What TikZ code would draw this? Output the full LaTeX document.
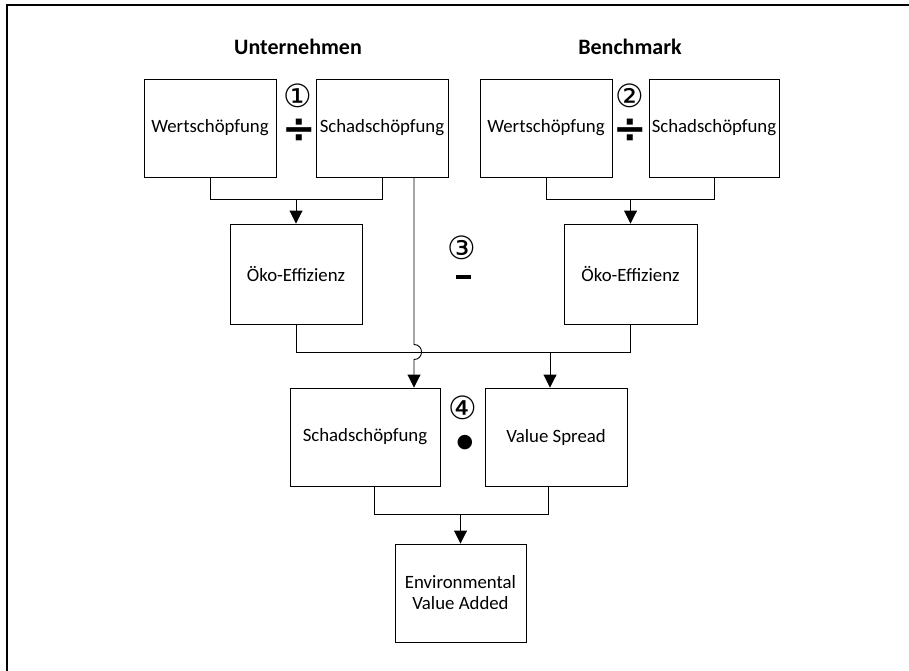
\documentclass[tikz,border=0pt]{standalone}
\usepackage{fontspec}
\setmainfont{Carlito}
\newfontfamily\symfont{DejaVu Sans}
\usetikzlibrary{arrows.meta, calc}

\begin{document}
\begin{tikzpicture}[
    x=1pt, y=-1pt,
    >={Triangle[length=13pt, width=13pt]},
    line width=0.9pt,
    % boxes for the single quantities
    valuebox/.style={
        draw,
        rectangle,
        minimum width=132pt,
        minimum height=98pt,
        inner sep=2pt,
        align=center,
        font=\fontsize{18.8}{21}\selectfont
    },
    % column titles
    headline/.style={
        font=\bfseries\fontsize{22}{26}\selectfont
    },
    % circled step numbers
    stepnum/.style={
        font=\symfont\fontsize{32}{34}\selectfont,
        inner sep=0pt
    },
    % operator signs between the boxes
    opsign/.style={
        font=\symfont\bfseries\fontsize{40}{40}\selectfont,
        inner sep=0pt
    }
]
    \useasboundingbox (0,0) rectangle (909,671);

    % frame (top and left only)
    \draw[line width=2pt] (6.5,671) -- (6.5,5.5) -- (909,5.5);

    % ==========================================
    % UNTERNEHMEN (LEFT)
    % ==========================================
    \node[headline] (titleu) at (298,47) {Unternehmen};
    \node[valuebox] (uwert) at (210,128) {Wertschöpfung};
    \node[valuebox] (uschad) at (382,128) {Schadschöpfung};
    \node[valuebox, minimum height=100pt] (uoeko) at (296,274) {Öko-Effizienz};

    \node[stepnum] (stepa) at (298,96) {①};
    \node[opsign] (diva) at (299,131) {÷};

    \coordinate (ujoin) at (296,199);
    \draw (uwert.south) -- (uwert.south |- ujoin) -- (uschad.south |- ujoin) -- (uschad.south);
    \draw[->] (ujoin) -- (uoeko.north);

    % ==========================================
    % BENCHMARK (RIGHT)
    % ==========================================
    \node[headline] (titleb) at (630,47) {Benchmark};
    \node[valuebox] (bwert) at (546,128) {Wertschöpfung};
    \node[valuebox, minimum width=130pt] (bschad) at (714,128) {Schadschöpfung};
    \node[valuebox, minimum width=133pt, minimum height=100pt] (boeko) at (630.5,274) {Öko-Effizienz};

    \node[stepnum] (stepb) at (630,96) {②};
    \node[opsign] (divb) at (630,131) {÷};

    \coordinate (bjoin) at (630.5,199);
    \draw (bwert.south) -- (bwert.south |- bjoin) -- (bschad.south |- bjoin) -- (bschad.south);
    \draw[->] (bjoin) -- (boeko.north);

    % ==========================================
    % DIFFERENCE AND PRODUCT
    % ==========================================
    \node[stepnum] (stepc) at (462,248) {③};
    \node[inner sep=0pt] (minus) at (463,277) {\rule{15pt}{4.5pt}};

    \node[valuebox, minimum width=150pt] (schad) at (365,437) {Schadschöpfung};
    \node[valuebox, minimum width=142pt] (spread) at (556,437) {Value Spread};

    \node[stepnum] (stepd) at (463,408) {④};
    \node[inner sep=0pt, font=\symfont\fontsize{19}{19}\selectfont] (times) at (465,443) {●};

    % Öko-Effizienz of both sides into the value spread
    \coordinate (ojoin) at (550,352);
    \draw (uoeko.south) -- (uoeko.south |- ojoin) -- (boeko.south |- ojoin) -- (boeko.south);
    \draw[->] (ojoin) -- (ojoin |- spread.north);

    % Schadschöpfung passed down, jumping over the line
    \coordinate (drop) at ($(uschad.south)+(32,0)$);
    \coordinate (jumptop) at (drop |- 0,344.5);
    \coordinate (jumpbot) at (drop |- 0,359.5);
    \draw[->] (drop) -- (jumptop) .. controls +(10,0) and +(10,0) .. (jumpbot) -- (drop |- schad.north);

    % ==========================================
    % ENVIRONMENTAL VALUE ADDED
    % ==========================================
    \node[valuebox, minimum width=131pt] (eva) at (460.5,593) {Environmental\\Value Added};

    \coordinate (ejoin) at (460.5,514);
    \coordinate (sdrop) at ($(schad.south)+(9,0)$);
    \coordinate (vdrop) at ($(spread.south)+(-8,0)$);
    \draw (sdrop) -- (sdrop |- ejoin) -- (vdrop |- ejoin) -- (vdrop);
    \draw[->] (ejoin) -- (eva.north);

\end{tikzpicture}
\end{document}
